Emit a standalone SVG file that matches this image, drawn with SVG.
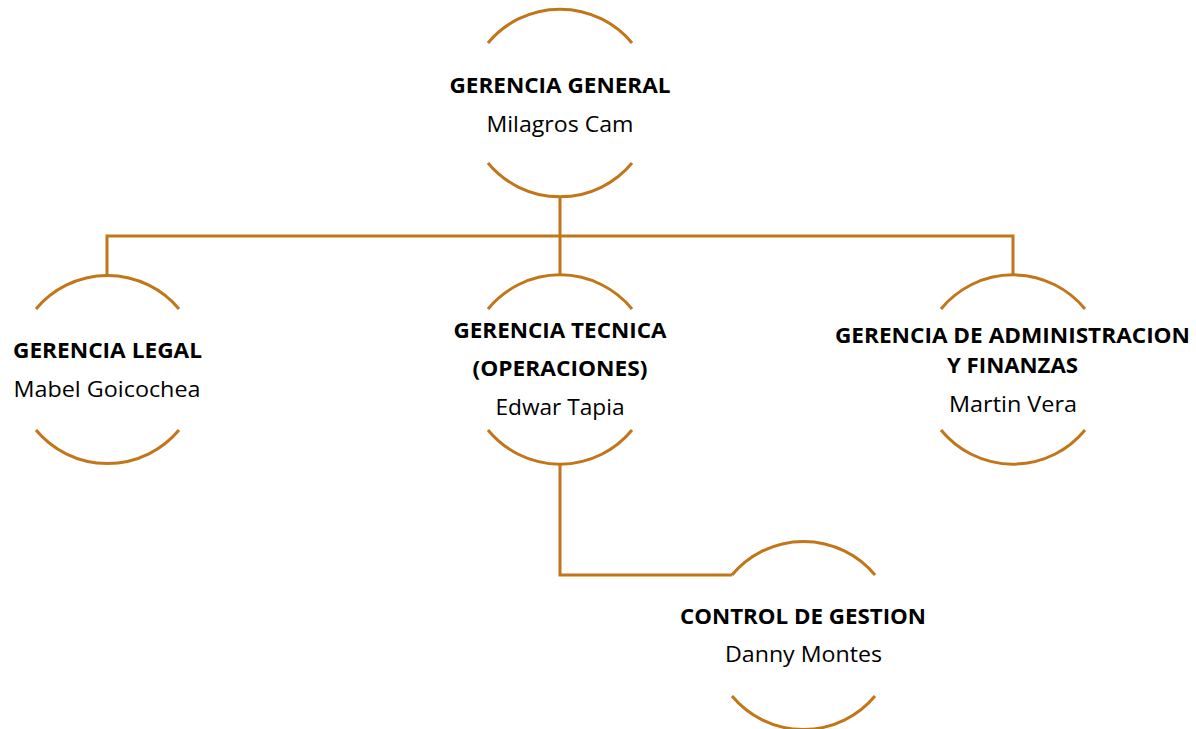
<svg xmlns="http://www.w3.org/2000/svg" width="1196" height="729" viewBox="0 0 1196 729">
<style>
.arc{fill:none;stroke:#C1761A;stroke-width:3}
.ln{fill:none;stroke:#C1761A;stroke-width:3}
.t{font-family:"Open Sans","Noto Sans",sans-serif;font-size:21px;fill:#000;text-anchor:middle}
.b{font-weight:bold}
</style>
<rect width="1196" height="729" fill="#fff"/>
<g id="connectors">
<path class="ln" d="M560 196 V236 M107 276 V236 H1013 V276 M560 236 V276"/>
<path class="ln" d="M560 463 V575 H732"/>
</g>
<g id="gerencia-general">
<path class="arc" d="M488 43 A93.5 93.5 0 0 1 632 43"/>
<path class="arc" d="M488 163 A93.5 93.5 0 0 0 632 163"/>
<text class="t b" x="560" y="93" textLength="221" lengthAdjust="spacingAndGlyphs">GERENCIA GENERAL</text>
<text class="t" x="560" y="132" textLength="147" lengthAdjust="spacingAndGlyphs">Milagros Cam</text>
</g>
<g id="gerencia-legal">
<path class="arc" d="M36 309 A93 93 0 0 1 179 309"/>
<path class="arc" d="M36 430 A93 93 0 0 0 179 430"/>
<text class="t b" x="107.5" y="358" textLength="189" lengthAdjust="spacingAndGlyphs">GERENCIA LEGAL</text>
<text class="t" x="107" y="397" textLength="187" lengthAdjust="spacingAndGlyphs">Mabel Goicochea</text>
</g>
<g id="gerencia-tecnica">
<path class="arc" d="M488 309 A93 93 0 0 1 632 309"/>
<path class="arc" d="M488 430 A93 93 0 0 0 632 430"/>
<text class="t b" x="560" y="338" textLength="213" lengthAdjust="spacingAndGlyphs">GERENCIA TECNICA</text>
<text class="t b" x="560" y="376" textLength="175" lengthAdjust="spacingAndGlyphs">(OPERACIONES)</text>
<text class="t" x="560" y="415" textLength="129" lengthAdjust="spacingAndGlyphs">Edwar Tapia</text>
</g>
<g id="gerencia-administracion">
<path class="arc" d="M941 309 A93 93 0 0 1 1085 309"/>
<path class="arc" d="M941 430 A93 93 0 0 0 1085 430"/>
<text class="t b" x="1012.5" y="343" textLength="355" lengthAdjust="spacingAndGlyphs">GERENCIA DE ADMINISTRACION</text>
<text class="t b" x="1012.5" y="373" textLength="131" lengthAdjust="spacingAndGlyphs">Y FINANZAS</text>
<text class="t" x="1013" y="412" textLength="128" lengthAdjust="spacingAndGlyphs">Martin Vera</text>
</g>
<g id="control-gestion">
<path class="arc" d="M732 575 A93 93 0 0 1 875 575"/>
<path class="arc" d="M732 696 A93 93 0 0 0 875 696"/>
<text class="t b" x="803" y="624" textLength="246" lengthAdjust="spacingAndGlyphs">CONTROL DE GESTION</text>
<text class="t" x="803.5" y="662" textLength="157" lengthAdjust="spacingAndGlyphs">Danny Montes</text>
</g>
</svg>
